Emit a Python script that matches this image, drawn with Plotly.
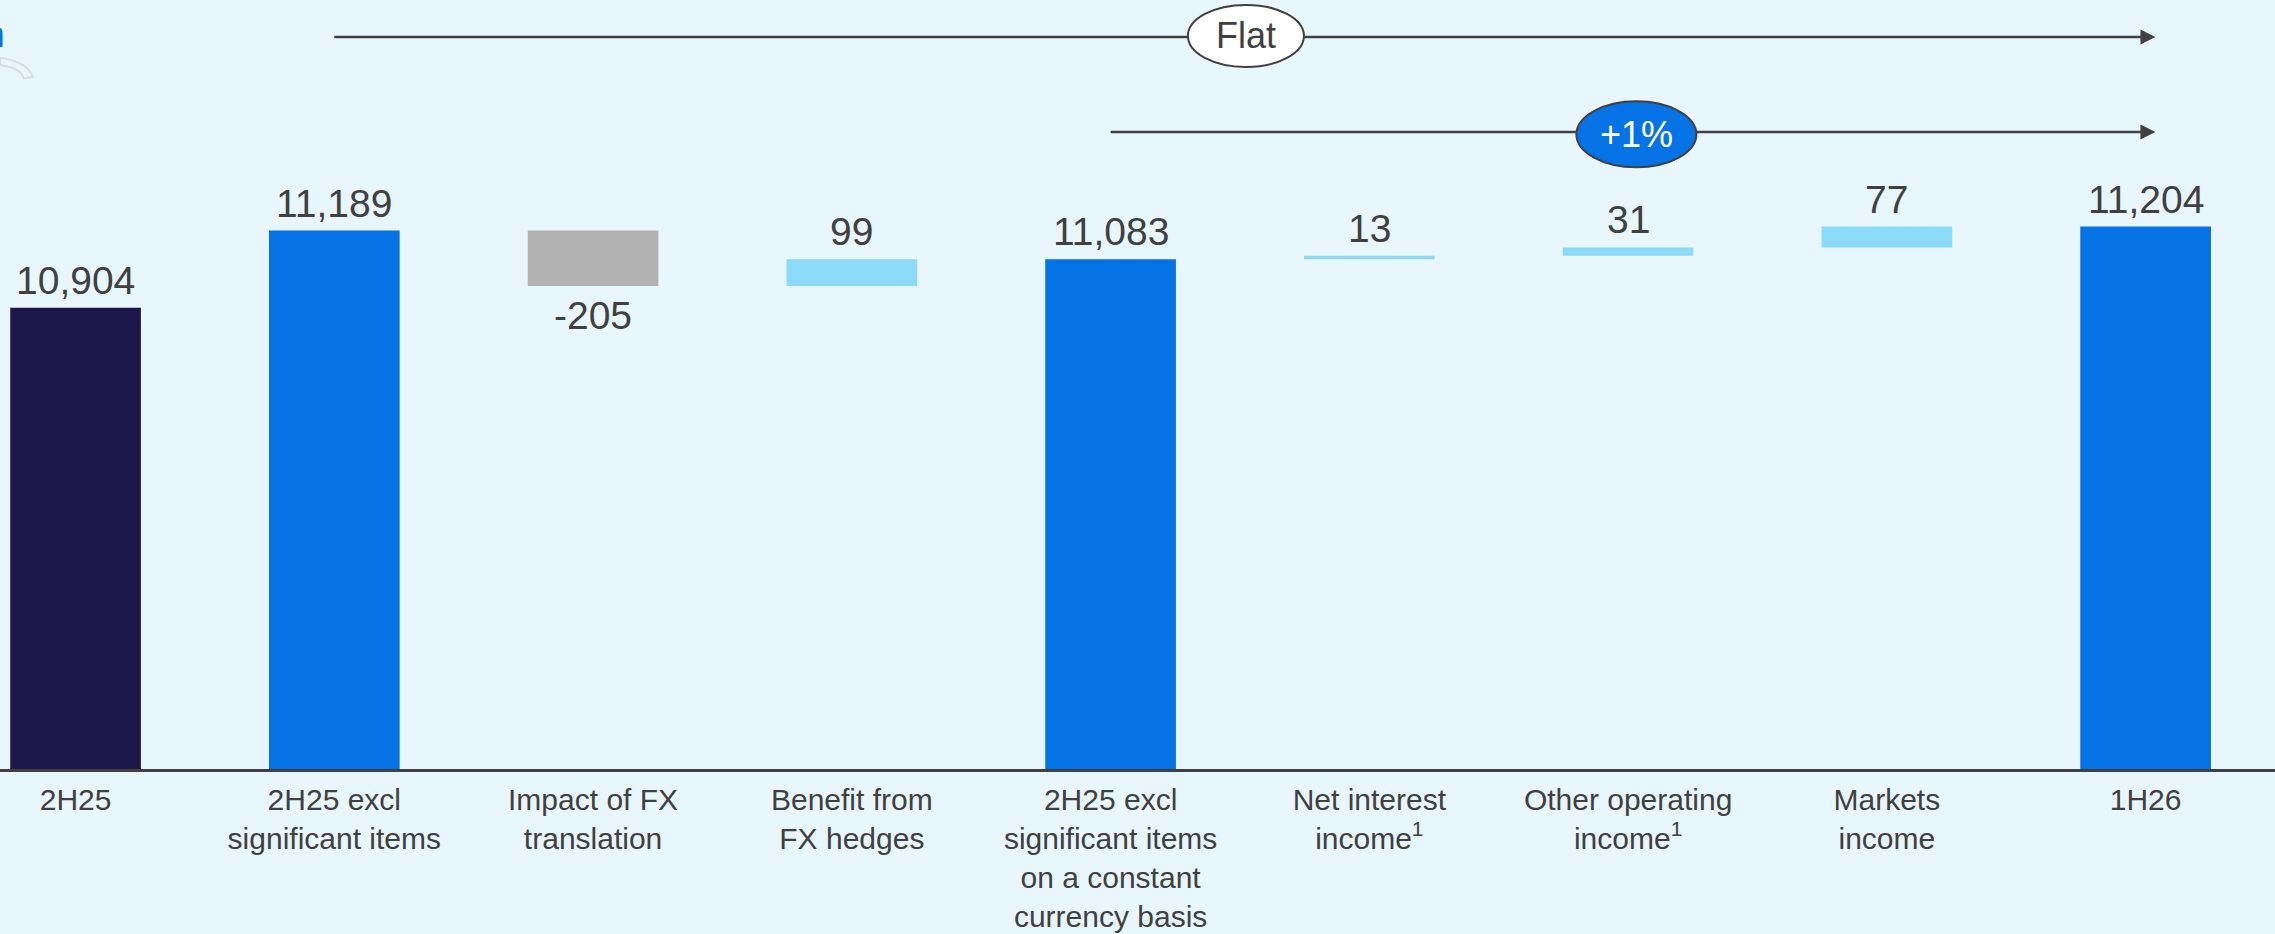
import plotly.graph_objects as go

# Revenue bridge, $m
categories = [
    "2H25",
    "2H25 excl<br>significant items",
    "Impact of FX<br>translation",
    "Benefit from<br>FX hedges",
    "2H25 excl<br>significant items<br>on a constant<br>currency basis",
    "Net interest<br>income<sup>1</sup>",
    "Other operating<br>income<sup>1</sup>",
    "Markets<br>income",
    "1H26",
]
values = [10904, 11189, -205, 99, 11083, 13, 31, 77, 11204]
measures = ["total", "total", "delta", "delta", "total", "delta", "delta", "delta", "total"]
bar_colors = ["#1D1649", "#0572E6", "#B2B2B2", "#8BDAF8", "#0572E6",
              "#8BDAF8", "#8BDAF8", "#8BDAF8", "#0572E6"]

# growth call-outs: (label, start category index, end category index)
callouts = [("Flat", 1, 8), ("+1%", 4, 8)]

BG = "#E8F6FE"
INK = "#404040"
FONT = "Liberation Sans, Arial, sans-serif"

# running totals -> bar bases
bases, heights = [], []
running = 0
for v, m in zip(values, measures):
    if m == "total":
        bases.append(0)
        heights.append(v)
        running = v
    else:
        bases.append(running)
        heights.append(v)
        running += v

x = list(range(len(categories)))

fig = go.Figure()
fig.add_trace(go.Bar(
    x=x, y=heights, base=bases,
    marker=dict(color=bar_colors, line=dict(width=0)),
    width=0.505, hoverinfo="skip", showlegend=False,
))

annotations = []
for i, (v, b, h) in enumerate(zip(values, bases, heights)):
    end = b + h
    if h >= 0:
        annotations.append(dict(x=i, y=end, xref="x", yref="y", text=f"{v:,}",
                                showarrow=False, yanchor="bottom", yshift=4,
                                font=dict(size=39, color=INK, family=FONT)))
    else:
        annotations.append(dict(x=i, y=end, xref="x", yref="y", text=f"{v:,}",
                                showarrow=False, yanchor="top", yshift=-6,
                                font=dict(size=39, color=INK, family=FONT)))

shapes = []
row_y = [0.952, 0.8283]
badge_x = [4.523, 6.032]
badge_dy = [0.0013, -0.003]
badge_style = [dict(fill="white", text=INK), dict(fill="#0572E6", text="white")]
badge_size = [(58, 31), (60, 33)]
for k, (label, s, e) in enumerate(callouts):
    yp = row_y[k]
    tip = e + 0.038
    shapes.append(dict(type="line", xref="x", yref="paper", x0=s, x1=tip - 0.05,
                       y0=yp, y1=yp, line=dict(color=INK, width=2.5), layer="above"))
    shapes.append(dict(type="path", xref="x", yref="paper", xsizemode="pixel",
                       ysizemode="pixel", xanchor=tip, yanchor=yp,
                       path="M0,0 L-15,7.5 L-15,-7.5 Z", fillcolor=INK,
                       line=dict(width=0), layer="above"))
    w, hh = badge_size[k]
    shapes.append(dict(type="circle", xref="x", yref="paper", xsizemode="pixel",
                       ysizemode="pixel", xanchor=badge_x[k], yanchor=yp + badge_dy[k],
                       x0=-w, x1=w, y0=-hh, y1=hh,
                       fillcolor=badge_style[k]["fill"], line=dict(color=INK, width=2),
                       layer="above"))
    annotations.append(dict(x=badge_x[k], y=yp + badge_dy[k], xref="x", yref="paper",
                            xanchor="center", yanchor="middle", text=label,
                            showarrow=False,
                            font=dict(size=36, color=badge_style[k]["text"], family=FONT)))

# unit label fragment at the top-left edge
annotations.append(dict(x=0, y=1, xref="paper", yref="paper", text="m", showarrow=False,
                        xanchor="right", yanchor="top", xshift=7, yshift=-12,
                        font=dict(size=37, color="#0572E6", family=FONT)))

# faint decorative arc at the left edge
shapes.append(dict(type="path", xref="paper", yref="paper",
                   path="M 0,0.925 Q 0.012,0.92 0.0145,0.9 L 0.0105,0.898 Q 0.009,0.912 0,0.915 Z",
                   fillcolor="rgba(0,0,0,0)", line=dict(color="#D6DEE2", width=2),
                   layer="below"))

fig.update_layout(
    width=2275, height=934,
    margin=dict(l=0, r=0, t=0, b=165, autoexpand=False),
    paper_bgcolor=BG, plot_bgcolor=BG,
    bargap=0.495,
    annotations=annotations,
    shapes=shapes,
    font=dict(family=FONT, color=INK),
    xaxis=dict(
        range=[-0.292, 8.50], tickmode="array", tickvals=x, ticktext=categories,
        showgrid=False, zeroline=False, showline=True, linecolor=INK, linewidth=2.5,
        ticks="", tickfont=dict(size=30, color=INK, family=FONT),
        ticklabelstandoff=2, automargin=False, fixedrange=True,
    ),
    yaxis=dict(range=[9200, 12041], visible=False, showgrid=False,
               automargin=False, fixedrange=True),
)

fig.write_html("out.html")
